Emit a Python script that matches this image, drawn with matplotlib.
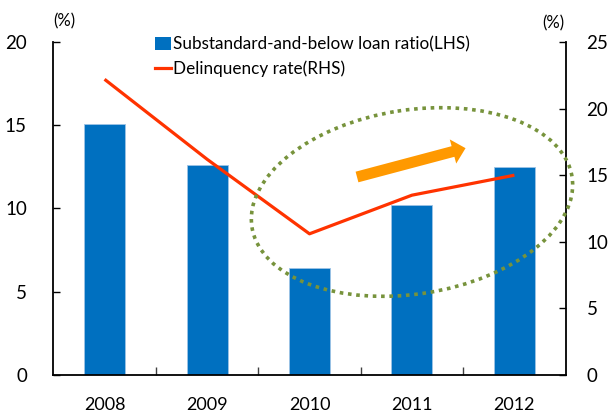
import numpy as np
import matplotlib.pyplot as plt
from matplotlib.patches import Ellipse, FancyArrow
from matplotlib.lines import Line2D
from matplotlib.patches import Patch

plt.rcParams['font.family'] = ['Lato', 'DejaVu Sans']

years = ['2008', '2009', '2010', '2011', '2012']
substandard_ratio = [15.1, 12.6, 6.4, 10.2, 12.5]   # LHS, %
delinquency_rate = [22.2, 16.2, 10.6, 13.5, 15.0]   # RHS, %

bar_color = '#0070C0'
line_color = '#FF3300'

fig = plt.figure(figsize=(6.10, 4.17), dpi=100)
ax = fig.add_axes([0.0874, 0.1007, 0.8399, 0.7986])
ax2 = ax.twinx()

x = np.arange(len(years))
ax.bar(x, substandard_ratio, width=0.4, color=bar_color,
       edgecolor='#9DC3E6', linewidth=0.6, zorder=2)
ax2.plot(x, delinquency_rate, color=line_color, lw=2.3, solid_capstyle='butt', zorder=3)

ax.set_xlim(-0.5, 4.5)
ax.set_ylim(0, 20)
ax2.set_ylim(0, 25)
ax.set_yticks([0, 5, 10, 15, 20])
ax2.set_yticks([0, 5, 10, 15, 20, 25])

ax.set_xticks(x)
ax.set_xticklabels(years)
ax.set_xticks(np.arange(0.5, 4.5, 1.0), minor=True)
ax.tick_params(axis='x', which='major', length=0, pad=16, labelsize=13)
ax.tick_params(axis='x', which='minor', direction='in', length=6, width=1, color='#404040')
ax.tick_params(axis='y', direction='in', length=5, width=1, pad=19, labelsize=13.5)
ax2.tick_params(axis='y', direction='in', length=5, width=1, pad=15, labelsize=13.5)

for a in (ax, ax2):
    a.spines['top'].set_visible(False)
    for s in ('left', 'right', 'bottom'):
        a.spines[s].set_linewidth(1.3)
ax.spines['right'].set_visible(False)
ax2.spines['left'].set_visible(False)
ax2.spines['bottom'].set_visible(False)

fig.text(53 / 610, 1 - 21 / 417, '(%)', fontsize=12, va='center', ha='left')
fig.text(564 / 610, 1 - 23 / 417, '(%)', fontsize=12, va='center', ha='right')

handles = [Patch(facecolor=bar_color, edgecolor='none'),
           Line2D([0], [0], color=line_color, lw=2.3)]
labels = ['Substandard-and-below loan ratio(LHS)', 'Delinquency rate(RHS)']
fig.legend(handles, labels, loc='upper left', bbox_to_anchor=(155 / 610, 1 - 36 / 417),
           frameon=False, fontsize=12.3, handlelength=0.95, handleheight=0.8,
           handletextpad=0.1, labelspacing=0.5, borderaxespad=0, borderpad=0)

# overlay in pixel units for the annotation ring and arrow
ov = fig.add_axes([0, 0, 1, 1], zorder=5)
ov.set_xlim(0, 610)
ov.set_ylim(417, 0)
ov.axis('off')
ov.patch.set_visible(False)
ov.add_patch(Ellipse((412, 202), 324, 184, angle=-9, fill=False,
                     edgecolor='#77933C', lw=2.6, linestyle=(0, (1, 1.3))))
ov.add_patch(FancyArrow(357, 177, 96, -25.5, width=11, head_width=25,
                        head_length=13, length_includes_head=False,
                        color='#FF9900', lw=0))

fig.savefig('out.png', dpi=100)
